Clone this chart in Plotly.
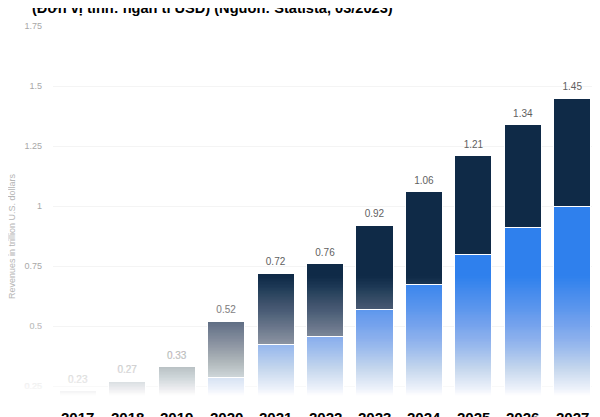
import numpy as np
import plotly.graph_objects as go

# values (trillion USD)
years = ["2017", "2018", "2019", "2020", "2021", "2022", "2023", "2024", "2025", "2026", "2027"]
totals = [0.23, 0.27, 0.33, 0.52, 0.72, 0.76, 0.92, 1.06, 1.21, 1.34, 1.45]
lower_part = [0, 0, 0, 0.285, 0.425, 0.455, 0.57, 0.675, 0.8, 0.91, 1.0]
upper_part = [round(t - b, 3) for t, b in zip(totals, lower_part)]
total_labels = ["%.2f" % t for t in totals]

tick_vals = [0.25, 0.5, 0.75, 1, 1.25, 1.5, 1.75]
tick_text = ["0.25", "0.5", "0.75", "1", "1.25", "1.5", "1.75"]

title_text = "(Đơn vị tính: ngàn tỉ USD) (Nguồn: Statista, 03/2023)"
y_title = "Revenues in trillion U.S. dollars"

# the page puts the figure 8px in from the window corner
OFF = 8
SCREEN_W, SCREEN_H = 600, 417
W, H = SCREEN_W - OFF, SCREEN_H - OFF
PLOT_TOP, PLOT_LEFT, PLOT_RIGHT = 26, 53, 597   # in window pixels
px_per_unit = 240.0
plot_h = SCREEN_H - PLOT_TOP
plot_w = PLOT_RIGHT - PLOT_LEFT
y_low = 1.75 - plot_h / px_per_unit


def paper_y(py):
  # window pixel row -> paper coordinate
  return (SCREEN_H - py) / plot_h


def paper_x(px):
  return (px - PLOT_LEFT) / plot_w


fig = go.Figure()
fig.add_trace(go.Bar(x=years, y=lower_part, marker_color="#2f80ed",
                     marker_line=dict(color="white", width=1)))
fig.add_trace(go.Bar(x=years, y=upper_part, marker_color="#0f2a47",
                     marker_line=dict(color="white", width=1)))
# total labels (kept under the fade, like the original)
fig.add_trace(go.Scatter(x=years, y=totals, mode="markers+text", text=total_labels,
                         textposition="top center", cliponaxis=False,
                         marker=dict(size=7, opacity=0), hoverinfo="skip",
                         textfont=dict(family="Liberation Sans", size=10, color="#5f5f5f")))

# white fade over the lower part of the picture, built from nested rects
shapes = []
step = 1.5
prev = 0.0
for py in np.arange(276, SCREEN_H, step):
  a = min(max((py - 275) / 120.0, 0), 1)
  if a >= 1:
    o = 1.0
  else:
    o = 1 - (1 - a) / (1 - prev)
  prev = a
  if o <= 0:
    continue
  shapes.append(dict(type="rect", xref="paper", yref="paper", x0=-0.12, x1=1.02,
                     y0=-0.05, y1=paper_y(py), fillcolor="white",
                     opacity=o, line=dict(width=0), layer="above"))
  if o >= 1:
    break

annotations = [
  dict(text="<b>%s</b>" % title_text, xref="paper", yref="paper",
       x=paper_x(30), y=paper_y(18), xanchor="left", yanchor="bottom",
       showarrow=False, font=dict(family="Liberation Sans", size=14.6, color="black")),
  dict(text=y_title, xref="paper", yref="paper", textangle=-90,
       x=paper_x(12), y=paper_y(236), xanchor="center", yanchor="middle",
       showarrow=False, font=dict(family="Liberation Sans", size=9, color="#b5b5b5")),
]
for i, yr in enumerate(years):
  annotations.append(dict(text="<b>%s</b>" % yr, x=i, xref="x", yref="paper",
                          y=paper_y(407), yanchor="top", showarrow=False,
                          font=dict(family="Liberation Sans", size=15, color="black")))

fig.update_layout(
  width=W, height=H, barmode="stack", bargap=0.25, showlegend=False,
  paper_bgcolor="white", plot_bgcolor="white",
  margin=dict(l=PLOT_LEFT - OFF, r=W - (PLOT_RIGHT - OFF), t=PLOT_TOP - OFF, b=0,
              autoexpand=False),
  shapes=shapes, annotations=annotations,
  xaxis=dict(type="category", showticklabels=False, showgrid=False, zeroline=False,
             showline=False, range=[-0.5, 10.5]),
  yaxis=dict(range=[y_low, 1.75], tickvals=tick_vals, ticktext=tick_text,
             showgrid=True, gridcolor="#f4f4f4", zeroline=False, showline=False,
             ticklabelstandoff=10, automargin=False,
             tickfont=dict(family="Liberation Sans", size=9, color="#a8a8a8")),
)

fig.write_html("out.html")
